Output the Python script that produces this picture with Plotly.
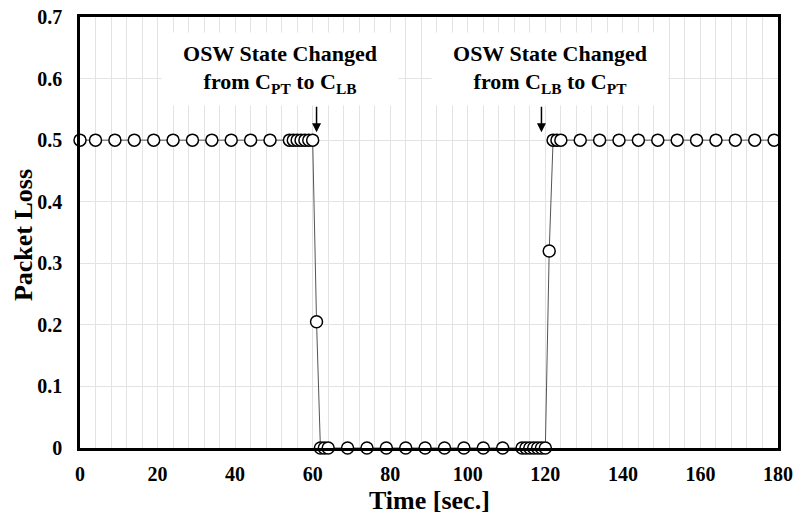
import plotly.graph_objects as go

time_s = [0, 4, 9, 14, 19, 24, 29, 34, 39, 44, 49, 54, 55, 56, 57, 58, 59, 60,
          61, 62, 63, 64, 69, 74, 79, 84, 89, 94, 99, 104, 109,
          114, 115, 116, 117, 118, 119, 120, 121, 122, 123, 124,
          129, 134, 139, 144, 149, 154, 159, 164, 169, 174, 179]
packet_loss = [0.5] * 18 + [0.205] + [0.0] * 19 + [0.32] + [0.5] * 14

x_ticks = [0, 20, 40, 60, 80, 100, 120, 140, 160, 180]
y_ticks = [0, 0.1, 0.2, 0.3, 0.4, 0.5, 0.6, 0.7]
y_tick_text = ["0", "0.1", "0.2", "0.3", "0.4", "0.5", "0.6", "0.7"]

annot_text = ["<b>OSW State Changed<br>from C<sub>PT</sub> to C<sub>LB</sub></b>",
              "<b>OSW State Changed<br>from C<sub>LB</sub> to C<sub>PT</sub></b>"]
annot_x = [51.6, 121.2]
arrow_x = [61, 119]

FONT = "Liberation Serif, Times New Roman, serif"

fig = go.Figure()
fig.add_trace(go.Scatter(
    x=time_s, y=packet_loss, mode="lines+markers",
    line=dict(color="#555555", width=1),
    marker=dict(symbol="circle", size=12, color="white",
                line=dict(color="black", width=1.5)),
    cliponaxis=False, showlegend=False,
))

ann_font = dict(family=FONT, size=22, color="black")
for tx, t in zip(annot_x, annot_text):
    fig.add_annotation(x=tx, y=0.615, xref="x", yref="y", text=t,
                       showarrow=False, bgcolor="white", width=234, height=70,
                       font=ann_font, xanchor="center", yanchor="middle")

for ax_ in arrow_x:
    fig.add_annotation(x=ax_, y=0.513, xref="x", yref="y", text="",
                       showarrow=True, arrowhead=2, arrowsize=1.2, arrowwidth=1.5,
                       arrowcolor="black", ax=0, ay=-27)

# axis titles as paper-anchored labels
fig.add_annotation(x=0.5, y=-0.121, xref="paper", yref="paper",
                   text="<b>Time [sec.]</b>", showarrow=False,
                   font=dict(family=FONT, size=26, color="black"),
                   xanchor="center", yanchor="middle")
fig.add_annotation(x=-0.081, y=0.495, xref="paper", yref="paper",
                   text="<b>Packet Loss</b>", showarrow=False, textangle=-90,
                   font=dict(family=FONT, size=26, color="black"),
                   xanchor="center", yanchor="middle")

fig.update_layout(
    width=797, height=520,
    margin=dict(l=80, r=19, t=17, b=72),
    plot_bgcolor="white", paper_bgcolor="white",
    font=dict(family=FONT, color="black"),
    xaxis=dict(range=[0, 180], tickvals=x_ticks,
               ticktext=["<b>%d</b>" % v for v in x_ticks],
               tickfont=dict(size=20), ticklabelstandoff=6,
               showgrid=True, gridcolor="#e3e3e3", gridwidth=1,
               minor=dict(dtick=4, showgrid=True, gridcolor="#e3e3e3", gridwidth=1),
               showline=True, linecolor="black", linewidth=2.5, mirror=True,
               zeroline=False, automargin=False),
    yaxis=dict(range=[0, 0.7], tickvals=y_ticks,
               ticktext=["<b>%s</b>" % t for t in y_tick_text],
               tickfont=dict(size=20), ticklabelstandoff=11,
               showgrid=True, gridcolor="#e3e3e3", gridwidth=1,
               showline=True, linecolor="black", linewidth=2.5, mirror=True,
               zeroline=False, automargin=False),
)

fig.write_html("out.html", config={"displayModeBar": False},
               post_script="document.body.style.margin='0px';")
